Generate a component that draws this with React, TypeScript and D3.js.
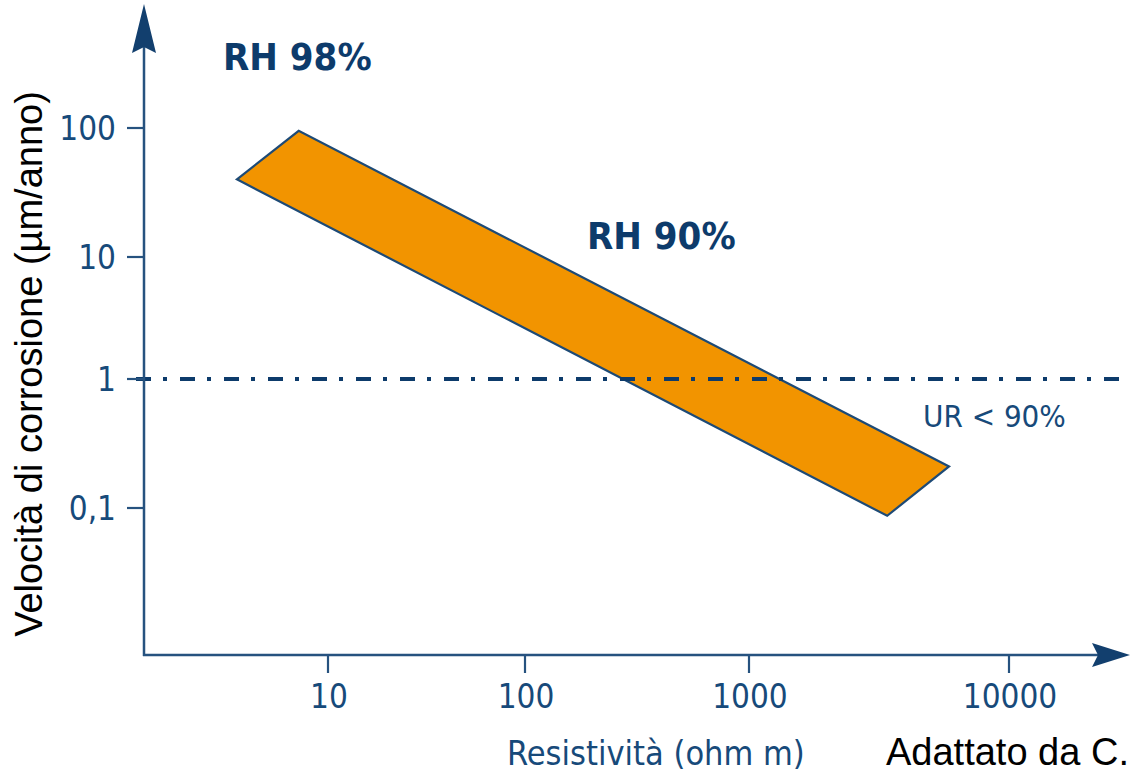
import React from "react";
import * as d3 from "d3";

// Resistivity decades (ohm m) and corrosion-rate decades (µm/anno)
const xTicks = [10, 100, 1000, 10000];
const xTickLabels = ["10", "100", "1000", "10000"];
const yTicks = [100, 10, 1, 0.1];
const yTickLabels = ["100", "10", "1", "0,1"];

// Corners of the corrosion band: resistivity vs corrosion rate
const bandResistivity = [3.45, 7.1, 5880, 3400];
const bandRate = [40, 95, 0.21, 0.087];

// Threshold rate drawn as dash-dot reference line
const thresholdRate = 1;

const W = 1130;
const H = 774;
const axisX = 144;
const axisY = 655;

const NAVY = "#0d3b6b";
const AXIS = "#26527f";
const ORANGE = "#f29400";
const navyFont = "'DejaVu Sans Condensed', 'DejaVu Sans', sans-serif";
const blackFont = "'Liberation Sans', Arial, sans-serif";

// The hand-drawn axes space their decades unevenly, so both scales are piecewise log scales.
const x = d3.scaleLog().domain(xTicks).range([328, 525, 749, 1009]);
const y = d3.scaleLog().domain(yTicks).range([128, 257, 379, 508]);

export default function App() {
  const bandPoints: [number, number][] = bandResistivity.map((r, i) => [x(r), y(bandRate[i])]);
  const bandPath = d3.line()(bandPoints) + "Z";

  return (
    <svg
      width={W}
      height={H}
      style={{ position: "absolute", left: 0, top: 0, background: "#fff" }}
    >
      {/* corrosion band */}
      <path d={bandPath} fill={ORANGE} stroke="#1d4a76" strokeWidth={2.2} strokeLinejoin="miter" />

      {/* threshold line */}
      <line
        x1={136}
        x2={1122}
        y1={y(thresholdRate)}
        y2={y(thresholdRate)}
        stroke={NAVY}
        strokeWidth={3.8}
        strokeDasharray="15 12 4 13"
      />

      {/* y axis */}
      <line x1={axisX} x2={axisX} y1={axisY + 1} y2={46} stroke={AXIS} strokeWidth={2.5} />
      <path
        d={`M${axisX},4 L${axisX + 12},53 L${axisX},47 L${axisX - 12},53 Z`}
        fill="#123f6e"
      />
      {yTicks.map((t, i) => (
        <g key={"yt" + i}>
          <line x1={127} x2={axisX} y1={y(t)} y2={y(t)} stroke={AXIS} strokeWidth={2.2} />
          <text
            x={116}
            y={y(t) + 12}
            textAnchor="end"
            fontFamily={navyFont}
            fontStretch="condensed"
            fontSize={33}
            fill="#174a7a"
          >
            {yTickLabels[i]}
          </text>
        </g>
      ))}

      {/* x axis */}
      <line x1={axisX - 1} x2={1100} y1={axisY} y2={axisY} stroke={AXIS} strokeWidth={2.5} />
      <path
        d={`M1130,${axisY} L1092,${axisY - 12} L1098,${axisY} L1092,${axisY + 12} Z`}
        fill="#123f6e"
      />
      {xTicks.map((t, i) => (
        <g key={"xt" + i}>
          <line x1={x(t)} x2={x(t)} y1={axisY} y2={673} stroke={AXIS} strokeWidth={2.2} />
          <text
            x={x(t) + 1}
            y={708}
            textAnchor="middle"
            fontFamily={navyFont}
            fontStretch="condensed"
            fontSize={33}
            fill="#174a7a"
          >
            {xTickLabels[i]}
          </text>
        </g>
      ))}

      {/* annotations */}
      <text x={223} y={70} fontFamily={navyFont} fontStretch="condensed" fontWeight="bold" fontSize={38} fill={NAVY}>
        RH 98%
      </text>
      <text x={587} y={249} fontFamily={navyFont} fontStretch="condensed" fontWeight="bold" fontSize={38} fill={NAVY}>
        RH 90%
      </text>
      <text x={923} y={427} fontFamily={navyFont} fontStretch="condensed" fontSize={31} fill="#174a7a">
        UR &lt; 90%
      </text>

      {/* axis titles */}
      <text x={507} y={765} fontFamily={navyFont} fontStretch="condensed" fontSize={34} fill="#174a7a">
        Resistività (ohm m)
      </text>
      <text
        transform={`translate(42,364) rotate(-90)`}
        textAnchor="middle"
        fontFamily={blackFont}
        fontSize={38}
        fill="#000"
      >
        Velocità di corrosione (µm/anno)
      </text>
      <text x={886} y={765} fontFamily={blackFont} fontSize={38} fill="#000">
        Adattato da C.
      </text>
    </svg>
  );
}
